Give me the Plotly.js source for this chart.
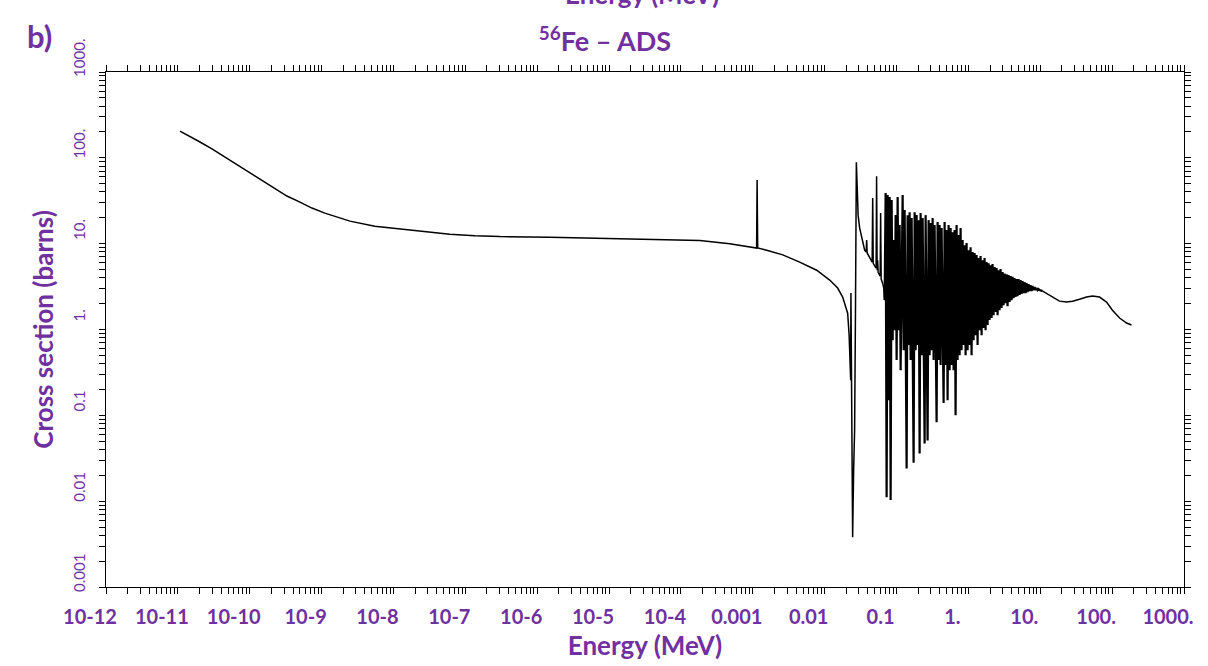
<!DOCTYPE html>
<html><head><meta charset="utf-8">
<script src="https://cdn.plot.ly/plotly-3.0.1.min.js"></script>
<style>html,body{margin:0;padding:0;background:#fff}#chart{width:1208px;height:666px}</style>
</head><body><div id="chart"></div>
<script>
// ---- data (Energy in MeV, cross section in barns) ----
const energyThermal = [1.07e-11,1.47e-11,2.03e-11,2.98e-11,4.52e-11,6.64e-11,1.007e-10,1.48e-10,2.24e-10,3.29e-10,5.0e-10,7.33e-10,1.11e-9,1.63e-9,2.48e-9,5.5e-9,1.23e-8,2.74e-8,6.08e-8,1.36e-7,3.02e-7,1.50e-6,7.43e-6,3.68e-5,1.83e-4,4.78e-4,0.00113,0.001148,0.001152,0.00117,0.00156,0.00261,0.00449,0.00774,0.01175,0.01517,0.0178,0.0209,0.0219,0.0230];
const sigmaThermal  = [205,179,153,127,102,82.4,66.5,53.7,43.3,35.9,30.5,26.0,22.7,20.4,18.3,16.0,14.8,13.7,12.9,12.4,12.1,11.9,11.6,11.3,10.9,10.0,8.9,55,11,8.9,8.4,7.4,6.1,4.9,3.77,3.04,2.39,1.55,0.86,0.257];

const energyResolved = [0.0232,0.0238,0.0245,0.0253,0.0261,0.0269,0.0276,0.0283,0.0292,0.0307,0.0327,0.0360,0.0378,0.0384,0.0390,0.0423,0.0458,0.0466,0.0474,0.0496,0.0520,0.0528,0.0537,0.0546,0.0555,0.0592,0.0601,0.0611,0.0641,0.0663,0.0683];
const sigmaResolved  = [2.66,0.067,0.0038,0.023,0.067,2.2,89,48,21.5,15.2,11.9,8.4,8.0,11,7.8,6.8,6.1,34,5.9,5.5,5.2,61,4.9,6.4,4.6,4.2,22.7,3.87,3.47,3.04,2.2];

const energyDense = [0.0705,0.0728,0.0752,0.0776,0.0802,0.0828,0.0855,0.0883,0.0912,0.0941,0.0972,0.1003,0.1036,0.1070,0.1104,0.1140,0.1178,0.1216,0.1256,0.1296,0.1339,0.1382,0.1427,0.1474,0.1521,0.1571,0.1622,0.1675,0.1729,0.1786,0.1843,0.1903,0.1965,0.2029,0.2095,0.2163,0.2234,0.2307,0.2381,0.2459,0.2539,0.2621,0.2707,0.2795,0.2885,0.2979,0.3076,0.3177,0.3280,0.3386,0.3497,0.3610,0.3728,0.3849,0.3974,0.4104,0.4237,0.4375,0.4519,0.4665,0.4817,0.4973,0.5136,0.5302,0.5475,0.5653,0.5837,0.6027,0.6223,0.6425,0.6634,0.6850,0.7073,0.7303,0.7541,0.7786,0.8040,0.8303,0.8572,0.8851,0.9139,0.9437,0.9743,1.006,1.039,1.072,1.107,1.143,1.181,1.219,1.259,1.300,1.342,1.386,1.431,1.477,1.525,1.575,1.626,1.679,1.734,1.790,1.848,1.909,1.971,2.035,2.101,2.169,2.240,2.313,2.388,2.466,2.546,2.629,2.714,2.803,2.894,2.988,3.085,3.185,3.289,3.396,3.506,3.620,3.738,3.859,3.985,4.115,4.249,4.386,4.529,4.677,4.829,4.985,5.149,5.316,5.489,5.667,5.853,6.042,6.240,6.442,6.652,6.868,7.093,7.322,7.561,7.806,8.061,8.323,8.594,8.872,9.161,9.459,9.768];
const sigmaDense  = [38.9,0.0111,36.8,0.150,34.9,0.0103,32.2,0.75,11.0,0.98,21.5,0.44,34.9,0.98,16.5,0.336,14.0,36.8,0.575,24.6,0.98,0.024,21.5,0.66,23.3,0.44,19.9,0.75,0.028,23.3,0.575,21.5,0.66,18.8,0.036,22.7,0.50,19.9,0.575,0.047,21.5,0.66,0.051,18.8,0.50,17.4,0.575,19.9,0.44,16.5,0.50,0.083,17.9,0.44,16.5,0.385,15.2,0.44,0.139,17.9,0.385,14.4,0.150,16.5,0.336,15.2,0.385,13.6,0.336,14.4,0.100,16.5,0.44,12.6,0.50,15.2,0.575,11.0,0.66,9.6,0.50,10.2,0.575,8.4,0.66,9.1,0.50,7.98,0.75,7.8,0.86,7.4,0.66,6.8,0.98,7.16,0.86,6.4,1.04,6.8,0.98,6.1,1.13,5.9,1.29,5.6,1.36,5.8,1.47,5.33,1.60,5.2,1.47,4.9,1.68,5.06,1.78,4.67,1.92,4.5,2.03,4.4,1.87,4.3,2.09,4.2,2.2,4.1,2.32,3.97,2.39,3.87,2.45,3.87,2.52,3.77,2.59,3.67,2.66,3.57,2.66,3.47,2.73,3.38,2.80,3.29,2.80,3.21,2.88,3.12,2.88,3.04,2.88,2.96,2.88];

const energyHigh = [10.8,12.6,14.8,18.5,23.2,28.1,35.2,44.1,53.4,66.8,83.6,101,127,159,186];
const sigmaHigh  = [2.80,2.59,2.39,2.14,2.09,2.14,2.25,2.39,2.45,2.39,2.09,1.68,1.36,1.19,1.13];

const xTickValues = [1e-12,1e-11,1e-10,1e-9,1e-8,1e-7,1e-6,1e-5,1e-4,1e-3,1e-2,1e-1,1,10,100,1000];
const xTickLabels = ['10-12','10-11','10-10','10-9','10-8','10-7','10-6','10-5','10-4','0.001','0.01','0.1','1.','10.','100.','1000.'];
const yTickValues = [0.001,0.01,0.1,1,10,100,1000];
const yTickLabels = ['0.001','0.01','0.1','1.','10.','100.','1000.'];

const PURPLE = '#7030a0';
const FONT = 'Lato, "Open Sans", sans-serif';

// smooth parts (thermal + isolated resonances) and the high-energy tail
const lastR = energyResolved.length - 1;
const traceLow = {
  x: [].concat(energyThermal, energyResolved), y: [].concat(sigmaThermal, sigmaResolved),
  type: 'scatter', mode: 'lines', line: {color: '#000', width: 1.5}, hoverinfo: 'skip'
};
// dense resonance forest, drawn with a heavier pen (joined to its neighbours)
const traceDense = {
  x: [energyResolved[lastR]].concat(energyDense, [energyHigh[0]]),
  y: [sigmaResolved[lastR]].concat(sigmaDense, [sigmaHigh[0]]),
  type: 'scatter', mode: 'lines', line: {color: '#000', width: 2.2}, hoverinfo: 'skip'
};
const traceHigh = {
  x: energyHigh, y: sigmaHigh,
  type: 'scatter', mode: 'lines', line: {color: '#000', width: 1.5}, hoverinfo: 'skip'
};

const axisCommon = {
  type: 'log', showgrid: false, zeroline: false,
  showline: true, linecolor: '#000', linewidth: 1, mirror: 'ticks',
  ticks: 'outside', ticklen: 6, tickwidth: 1, tickcolor: '#000',
  tickmode: 'array',
  minor: {ticks: 'outside', ticklen: 6, tickwidth: 1, tickcolor: '#000', dtick: 'D1', showgrid: false}
};

const layout = {
  width: 1208, height: 666,
  margin: {l: 106, r: 24, t: 72, b: 79, pad: 0},
  paper_bgcolor: '#fff', plot_bgcolor: '#fff',
  showlegend: false,
  title: {
    text: '<sup>56</sup>Fe – ADS',
    font: {family: FONT, size: 27, color: PURPLE, weight: 700},
    xref: 'container', x: 605/1208, xanchor: 'center',
    yref: 'container', y: 1 - 42/666, yanchor: 'middle'
  },
  xaxis: Object.assign({}, axisCommon, {
    range: [-12, 3],
    tickvals: xTickValues, ticktext: xTickLabels,
    tickfont: {family: FONT, size: 20, color: PURPLE, weight: 700},
    ticklabelshift: -16,
    ticklabelstandoff: 6,
    title: {text: 'Energy (MeV)', font: {family: FONT, size: 26, color: PURPLE, weight: 700}, standoff: 9}
  }),
  yaxis: Object.assign({}, axisCommon, {
    range: [-3, 3],
    tickvals: yTickValues, ticktext: yTickLabels,
    tickangle: -90,
    tickfont: {family: FONT, size: 15, color: PURPLE},
    ticklabelshift: -12,
    ticklabelstandoff: 8,
    title: {text: 'Cross section (barns)', font: {family: FONT, size: 26, color: PURPLE, weight: 700}, standoff: 8}
  }),
  annotations: [
    {text: 'b)', xref: 'paper', yref: 'paper', x: -0.062, y: 1.07, xanchor: 'center', yanchor: 'middle',
     showarrow: false, font: {family: FONT, size: 31, color: PURPLE, weight: 700}},
    {text: 'Energy (MeV)', xref: 'paper', yref: 'paper', x: (642-106)/1078, y: 1 + (72+6)/515, xanchor: 'center', yanchor: 'middle',
     showarrow: false, font: {family: FONT, size: 26, color: PURPLE, weight: 700}}
  ]
};

Plotly.newPlot('chart', [traceLow, traceDense, traceHigh], layout, {displayModeBar: false, staticPlot: true});
</script>
</body></html>
